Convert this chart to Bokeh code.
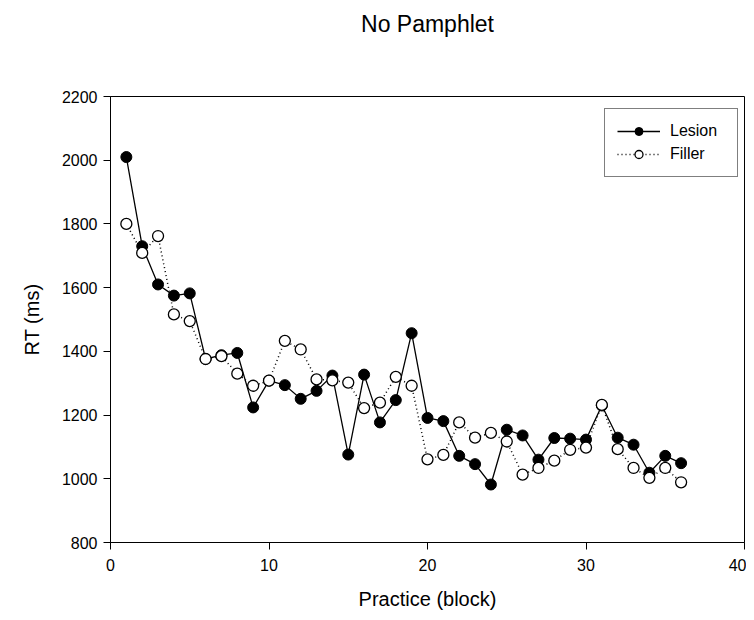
from bokeh.plotting import figure
from bokeh.models import Range1d, FixedTicker, Legend, LegendItem, Title
from bokeh.embed import file_html
from bokeh.resources import INLINE

blocks = list(range(1, 37))
lesion = [2010, 1730, 1610, 1575, 1582, 1376, 1388, 1395, 1224, 1308, 1294, 1251,
          1276, 1324, 1076, 1327, 1177, 1247, 1457, 1191, 1181, 1072, 1046, 982,
          1154, 1136, 1060, 1128, 1126, 1123, 1230, 1129, 1107, 1019, 1072, 1049]
filler = [1800, 1709, 1762, 1516, 1495, 1376, 1385, 1330, 1292, 1308, 1433, 1406,
          1312, 1309, 1302, 1222, 1239, 1320, 1292, 1061, 1075, 1177, 1129, 1144,
          1117, 1013, 1034, 1057, 1091, 1098, 1232, 1093, 1034, 1003, 1034, 989]
x_ticks = [0, 10, 20, 30, 40]
y_ticks = [800, 1000, 1200, 1400, 1600, 1800, 2000, 2200]
title_text = "No Pamphlet"

FONT = "Liberation Sans"

p = figure(width=746, height=612, output_backend="svg", toolbar_location=None,
           x_range=Range1d(0, 40), y_range=Range1d(800, 2200),
           min_border_left=110, min_border_right=2, min_border_top=96,
           min_border_bottom=70)

p.title.text = title_text
p.title.align = "center"
p.title.text_font = FONT
p.title.text_font_size = "23px"
p.title.text_font_style = "normal"
p.title.text_color = "black"
p.title.standoff = 14

# invisible spacer between the title and the frame
spacer = Title(text=" ", text_font_size="1px", standoff=50)
p.add_layout(spacer, "above")

p.xgrid.visible = False
p.ygrid.visible = False
p.outline_line_color = "black"
p.outline_line_width = 1
p.outline_line_alpha = 1

for ax in (p.xaxis[0], p.yaxis[0]):
    ax.minor_tick_line_color = None
    ax.major_tick_in = 0
    ax.major_tick_out = 7
    ax.axis_line_color = "black"
    ax.major_tick_line_color = "black"
    ax.major_label_text_font = FONT
    ax.major_label_text_font_size = "16px"
    ax.major_label_text_color = "black"
    ax.axis_label_text_font = FONT
    ax.axis_label_text_font_size = "20px"
    ax.axis_label_text_font_style = "normal"
    ax.axis_label_text_color = "black"

p.xaxis.ticker = FixedTicker(ticks=x_ticks)
p.yaxis.ticker = FixedTicker(ticks=y_ticks)
p.xaxis.axis_label = "Practice (block)"
p.yaxis.axis_label = "RT (ms)"
p.xaxis.major_label_standoff = 9
p.xaxis.axis_label_standoff = 14
p.yaxis.major_label_standoff = 6
p.yaxis.axis_label_standoff = 16

l_line = p.line(blocks, lesion, line_color="black", line_width=1.3)
l_pts = p.scatter(blocks, lesion, marker="circle", size=11, fill_color="black",
                  line_color="black", line_width=1)
f_line = p.line(blocks, filler, line_color="black", line_width=1.5, line_dash="1 3")
f_pts = p.scatter(blocks, filler, marker="circle", size=11, fill_color="white",
                  line_color="black", line_width=1.3)

legend = Legend(items=[LegendItem(label="Lesion", renderers=[l_line, l_pts]),
                       LegendItem(label="Filler", renderers=[f_line, f_pts])],
                location=(494, 365))
legend.margin = 0
legend.padding = 12
legend.spacing = 3
legend.glyph_width = 43
legend.glyph_height = 20
legend.label_standoff = 10
legend.label_width = 55
legend.label_text_font = FONT
legend.label_text_font_size = "16px"
legend.label_text_color = "black"
legend.border_line_color = "black"
legend.border_line_width = 1
legend.background_fill_alpha = 1
p.add_layout(legend)

open("out.html", "w").write(file_html(p, INLINE))
